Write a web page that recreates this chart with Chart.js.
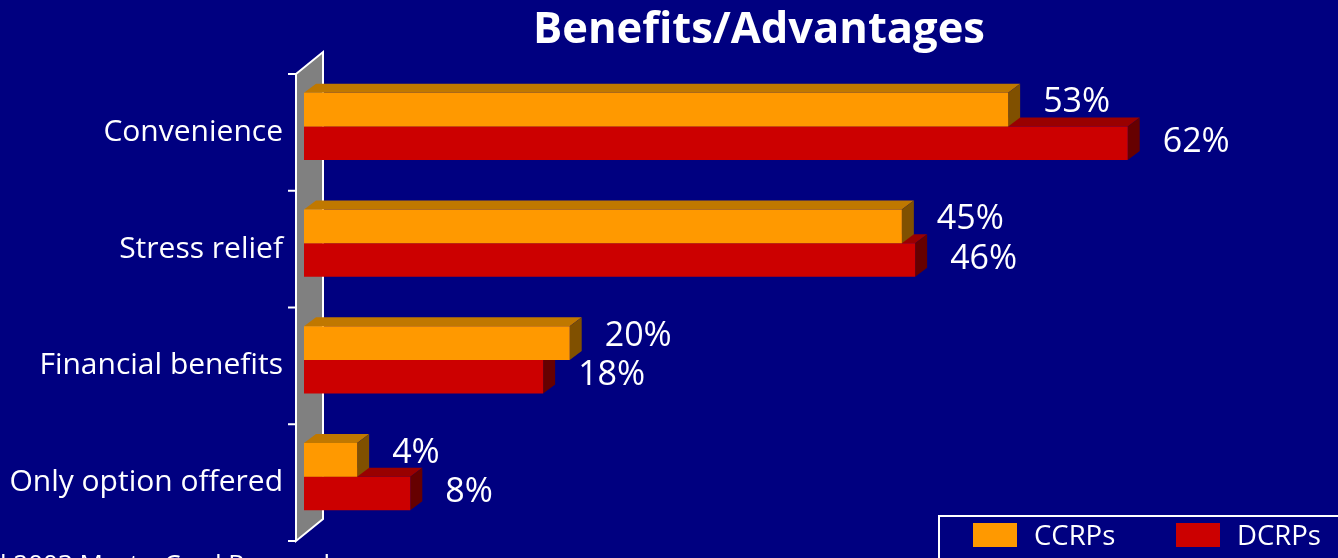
<!DOCTYPE html>
<html lang="en">
<head>
    <meta charset="UTF-8">
    <title>Benefits/Advantages</title>
    <script src="https://cdn.jsdelivr.net/npm/chart.js"></script>
    <style>
        html, body { margin: 0; padding: 0; background: #000080; overflow: hidden; }
        canvas { display: block; }
    </style>
</head>
<body>
    <canvas id="benefits-chart" width="1338" height="558"></canvas>

    <script>
        // chart data
        const categories = ['Convenience', 'Stress relief', 'Financial benefits', 'Only option offered'];
        const ccrpValues = [53, 45, 20, 4];
        const dcrpValues = [62, 46, 18, 8];
        const seriesNames = ['CCRPs', 'DCRPs'];
        const chartTitle = 'Benefits/Advantages';
        const footnote = 'l 2003 MasterCard Research';

        const FONT = '"Open Sans", "DejaVu Sans", sans-serif';
        const DEPTH_X = 12, DEPTH_Y = 9;
        const WALL_SHIFT = 6;

        // front / top / side shades per series
        const shades = [
            { front: '#ff9900', top: '#c07800', side: '#805000' },
            { front: '#cc0000', top: '#990000', side: '#660000' }
        ];

        const threeDBars = {
            id: 'threeDBars',
            beforeDatasetsDraw(chart) {
                // grey back wall with white edges and category ticks
                const ctx = chart.ctx;
                const yScale = chart.scales.y;
                const left = 296, right = 323;
                const top = yScale.top + WALL_SHIFT;
                const bottom = yScale.bottom + WALL_SHIFT;
                const rise = 22;
                ctx.save();
                ctx.fillStyle = '#808080';
                ctx.beginPath();
                ctx.moveTo(left, top);
                ctx.lineTo(right, top - rise);
                ctx.lineTo(right, bottom - rise);
                ctx.lineTo(left, bottom);
                ctx.closePath();
                ctx.fill();
                ctx.strokeStyle = '#ffffff';
                ctx.lineWidth = 2;
                ctx.stroke();
                const n = categories.length;
                for (let i = 0; i <= n; i++) {
                    const y = top + (bottom - top) * i / n;
                    ctx.beginPath();
                    ctx.moveTo(288, y);
                    ctx.lineTo(left, y);
                    ctx.stroke();
                }
                ctx.restore();
            },
            beforeDatasetDraw(chart, args) {
                const ctx = chart.ctx;
                const s = shades[args.index];
                ctx.save();
                args.meta.data.forEach((bar) => {
                    const x0 = bar.base, x1 = bar.x;
                    const y0 = bar.y - bar.height / 2, y1 = bar.y + bar.height / 2;
                    // top face
                    ctx.fillStyle = s.top;
                    ctx.beginPath();
                    ctx.moveTo(x0, y0);
                    ctx.lineTo(x0 + DEPTH_X, y0 - DEPTH_Y);
                    ctx.lineTo(x1 + DEPTH_X, y0 - DEPTH_Y);
                    ctx.lineTo(x1, y0);
                    ctx.closePath();
                    ctx.fill();
                    // side face
                    ctx.fillStyle = s.side;
                    ctx.beginPath();
                    ctx.moveTo(x1, y0);
                    ctx.lineTo(x1 + DEPTH_X, y0 - DEPTH_Y);
                    ctx.lineTo(x1 + DEPTH_X, y1 - DEPTH_Y);
                    ctx.lineTo(x1, y1);
                    ctx.closePath();
                    ctx.fill();
                });
                ctx.restore();
            },
            afterDatasetsDraw(chart) {
                // value labels
                const ctx = chart.ctx;
                ctx.save();
                ctx.fillStyle = '#ffffff';
                ctx.font = '500 34px ' + FONT;
                ctx.textAlign = 'left';
                ctx.textBaseline = 'middle';
                chart.data.datasets.forEach((ds, di) => {
                    const meta = chart.getDatasetMeta(di);
                    meta.data.forEach((bar, i) => {
                        const dy = di === 0 ? -7 : -1;
                        ctx.fillText(ds.data[i] + '%', bar.x + 35, bar.y + dy);
                    });
                });
                ctx.restore();
            },
            afterDraw(chart) {
                const ctx = chart.ctx;
                ctx.save();
                // title
                ctx.fillStyle = '#ffffff';
                ctx.font = 'bold 43.5px ' + FONT;
                ctx.textAlign = 'center';
                ctx.textBaseline = 'middle';
                ctx.fillText(chartTitle, 759, 31);

                // legend box
                ctx.strokeStyle = '#ffffff';
                ctx.lineWidth = 2;
                ctx.strokeRect(939, 516, 420, 60);
                const items = [
                    { swatch: 973, text: 1034 },
                    { swatch: 1176, text: 1237 }
                ];
                ctx.font = '27.5px ' + FONT;
                ctx.textAlign = 'left';
                items.forEach((it, i) => {
                    ctx.fillStyle = shades[i].front;
                    ctx.fillRect(it.swatch, 523, 44, 24);
                    ctx.fillStyle = '#ffffff';
                    ctx.fillText(seriesNames[i], it.text, 537);
                });

                // footnote, cut by the bottom edge
                ctx.font = '26px ' + FONT;
                ctx.textBaseline = 'alphabetic';
                ctx.fillText(footnote, 0, 573);
                ctx.restore();
            }
        };

        const ctx = document.getElementById('benefits-chart').getContext('2d');
        new Chart(ctx, {
            type: 'bar',
            data: {
                labels: categories,
                datasets: [
                    { label: seriesNames[0], data: ccrpValues, backgroundColor: shades[0].front },
                    { label: seriesNames[1], data: dcrpValues, backgroundColor: shades[1].front }
                ]
            },
            options: {
                indexAxis: 'y',
                responsive: false,
                animation: false,
                categoryPercentage: 0.575,
                barPercentage: 1,
                layout: { padding: { top: 68, bottom: 23, left: 0, right: 104 } },
                plugins: {
                    legend: { display: false },
                    tooltip: { enabled: false }
                },
                scales: {
                    x: { display: false, min: 0, max: 70 },
                    y: {
                        grid: { display: false, drawTicks: false },
                        border: { display: false },
                        ticks: {
                            color: '#ffffff',
                            font: { family: FONT, size: 30 },
                            padding: 21,
                            labelOffset: 6
                        },
                        afterFit(scale) {
                            scale.width = 304;
                            scale.paddingTop = 0;
                            scale.paddingBottom = 0;
                        }
                    }
                }
            },
            plugins: [threeDBars]
        });
    </script>
</body>
</html>
